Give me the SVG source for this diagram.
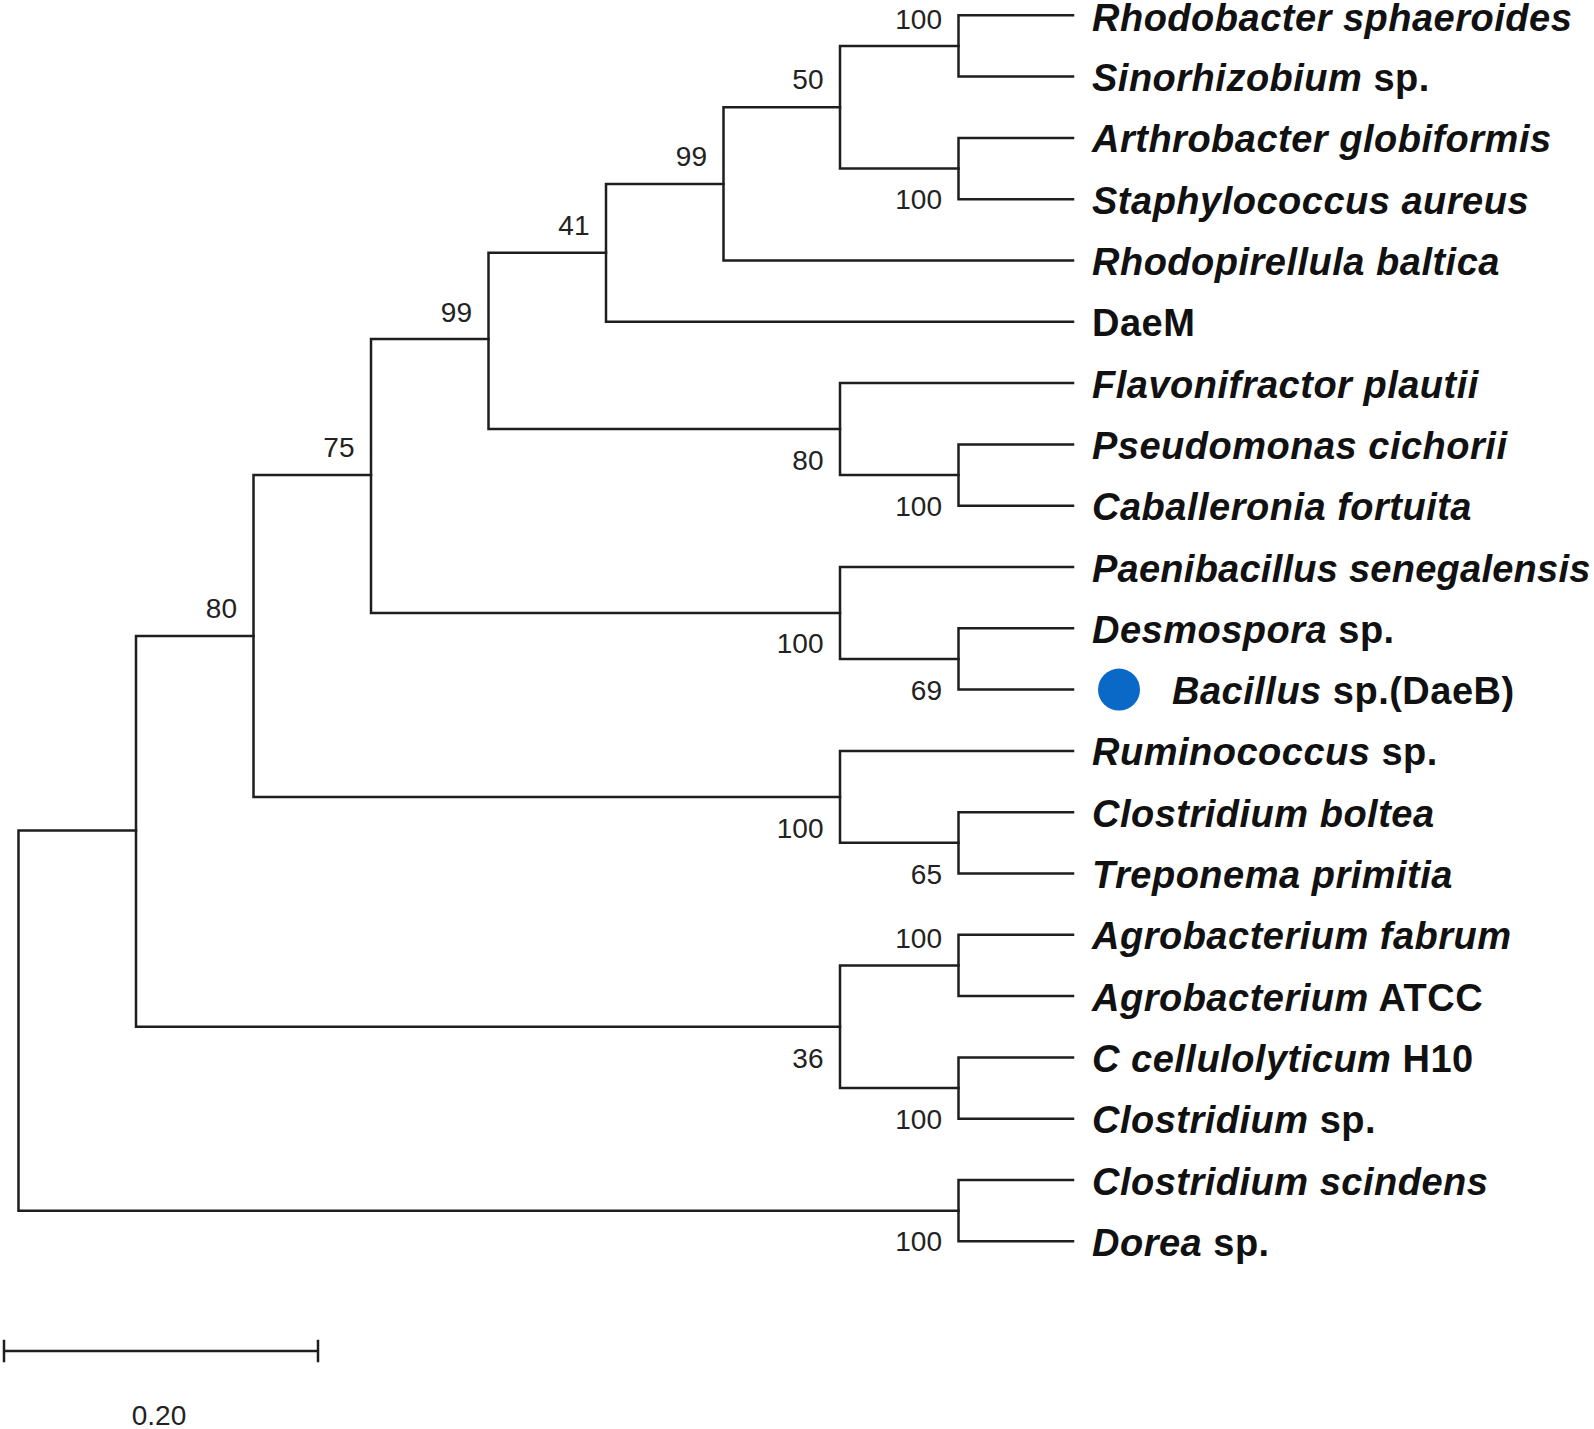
<svg xmlns="http://www.w3.org/2000/svg" width="1594" height="1429" viewBox="0 0 1594 1429">
<style>
.br{fill:none;stroke:#1e1e1e;stroke-width:2.5;stroke-linecap:square;stroke-linejoin:miter}
.bs{font-family:"Liberation Sans",Arial,sans-serif;font-size:28px;fill:#222;text-anchor:end}
.lf{font-family:"Liberation Sans",Arial,sans-serif;font-size:38px;font-weight:bold;fill:#111;letter-spacing:0.5px}
.it{font-style:italic}
.sc{font-family:"Liberation Sans",Arial,sans-serif;font-size:28px;fill:#222;text-anchor:middle}
</style>
<rect width="1594" height="1429" fill="#fff"/>
<g id="connectors">
<path class="br" d="M136 830.5 H18.5 V1210.65 H958.5"/>
<path class="br" d="M253.5 636 H136 V1026.75 H840"/>
<path class="br" d="M371 475 H253.5 V796.9 H840"/>
<path class="br" d="M488.5 339 H371 V613 H840"/>
<path class="br" d="M606 252.85 H488.5 V429.1 H840"/>
<path class="br" d="M723.5 183.9 H606 V321.8 H1073"/>
<path class="br" d="M840 107.25 H723.5 V260.5 H1073"/>
<path class="br" d="M958.5 45.95 H840 V168.55 H958.5"/>
<path class="br" d="M1073 15.3 H958.5 V76.6 H1073"/>
<path class="br" d="M1073 137.9 H958.5 V199.2 H1073"/>
<path class="br" d="M1073 383.1 H840 V475.05 H958.5"/>
<path class="br" d="M1073 444.4 H958.5 V505.7 H1073"/>
<path class="br" d="M1073 567 H840 V658.95 H958.5"/>
<path class="br" d="M1073 628.3 H958.5 V689.6 H1073"/>
<path class="br" d="M1073 750.9 H840 V842.85 H958.5"/>
<path class="br" d="M1073 812.2 H958.5 V873.5 H1073"/>
<path class="br" d="M958.5 965.45 H840 V1088.05 H958.5"/>
<path class="br" d="M1073 934.8 H958.5 V996.1 H1073"/>
<path class="br" d="M1073 1057.4 H958.5 V1118.7 H1073"/>
<path class="br" d="M1073 1180 H958.5 V1241.3 H1073"/>
</g>
<g id="bootstrap">
<g id="n-A"><text class="bs" x="942" y="29">100</text></g>
<g id="n-C"><text class="bs" x="823.5" y="89">50</text></g>
<g id="n-D"><text class="bs" x="707" y="165.5">99</text></g>
<g id="n-E"><text class="bs" x="589.5" y="234.5">41</text></g>
<g id="n-H"><text class="bs" x="472" y="321.5">99</text></g>
<g id="n-K"><text class="bs" x="354.5" y="457">75</text></g>
<g id="n-N"><text class="bs" x="237" y="618">80</text></g>
<g id="n-O"><text class="bs" x="942" y="947.5">100</text></g>
<g id="n-B"><text class="bs" x="942" y="209">100</text></g>
<g id="n-G"><text class="bs" x="823.5" y="469.5">80</text></g>
<g id="n-F"><text class="bs" x="942" y="515.5">100</text></g>
<g id="n-J"><text class="bs" x="823.5" y="653">100</text></g>
<g id="n-I"><text class="bs" x="942" y="699.5">69</text></g>
<g id="n-M"><text class="bs" x="823.5" y="837.5">100</text></g>
<g id="n-L"><text class="bs" x="942" y="883.5">65</text></g>
<g id="n-Q"><text class="bs" x="823.5" y="1067.5">36</text></g>
<g id="n-P"><text class="bs" x="942" y="1128.5">100</text></g>
<g id="n-S"><text class="bs" x="942" y="1251">100</text></g>
</g>
<g id="leaves">
<g id="leaf-01"><text class="lf it" x="1092" y="31">Rhodobacter sphaeroides</text></g>
<g id="leaf-02"><text class="lf" x="1092" y="91.1"><tspan class="it">Sinorhizobium</tspan> sp.</text></g>
<g id="leaf-03"><text class="lf it" x="1092" y="152.4">Arthrobacter globiformis</text></g>
<g id="leaf-04"><text class="lf it" x="1092" y="213.7">Staphylococcus aureus</text></g>
<g id="leaf-05"><text class="lf it" x="1092" y="275">Rhodopirellula baltica</text></g>
<g id="leaf-06"><text class="lf" x="1092" y="336.3">DaeM</text></g>
<g id="leaf-07"><text class="lf it" x="1092" y="397.6">Flavonifractor plautii</text></g>
<g id="leaf-08"><text class="lf it" x="1092" y="458.9">Pseudomonas cichorii</text></g>
<g id="leaf-09"><text class="lf it" x="1092" y="520.2">Caballeronia fortuita</text></g>
<g id="leaf-10"><text class="lf it" x="1092" y="581.5" style="letter-spacing:0.25px">Paenibacillus senegalensis</text></g>
<g id="leaf-11"><text class="lf" x="1092" y="642.8"><tspan class="it">Desmospora</tspan> sp.</text></g>
<g id="leaf-12"><circle cx="1119" cy="689.6" r="21" fill="#0a68c6"/><text class="lf" x="1172" y="704.1"><tspan class="it">Bacillus</tspan> sp.(DaeB)</text></g>
<g id="leaf-13"><text class="lf" x="1092" y="765.4"><tspan class="it">Ruminococcus</tspan> sp.</text></g>
<g id="leaf-14"><text class="lf it" x="1092" y="826.7">Clostridium boltea</text></g>
<g id="leaf-15"><text class="lf it" x="1092" y="888">Treponema primitia</text></g>
<g id="leaf-16"><text class="lf it" x="1092" y="949.3">Agrobacterium fabrum</text></g>
<g id="leaf-17"><text class="lf" x="1092" y="1010.6"><tspan class="it">Agrobacterium</tspan> ATCC</text></g>
<g id="leaf-18"><text class="lf" x="1092" y="1071.9"><tspan class="it">C cellulolyticum</tspan> H10</text></g>
<g id="leaf-19"><text class="lf" x="1092" y="1133.2"><tspan class="it">Clostridium</tspan> sp.</text></g>
<g id="leaf-20"><text class="lf it" x="1092" y="1194.5">Clostridium scindens</text></g>
<g id="leaf-21"><text class="lf" x="1092" y="1255.8"><tspan class="it">Dorea</tspan> sp.</text></g>
</g>
<g id="scale-bar">
<path class="br" d="M4 1351 H318 M4 1341 V1361 M318 1341 V1361"/>
<text class="sc" x="159" y="1425">0.20</text>
</g>
</svg>
